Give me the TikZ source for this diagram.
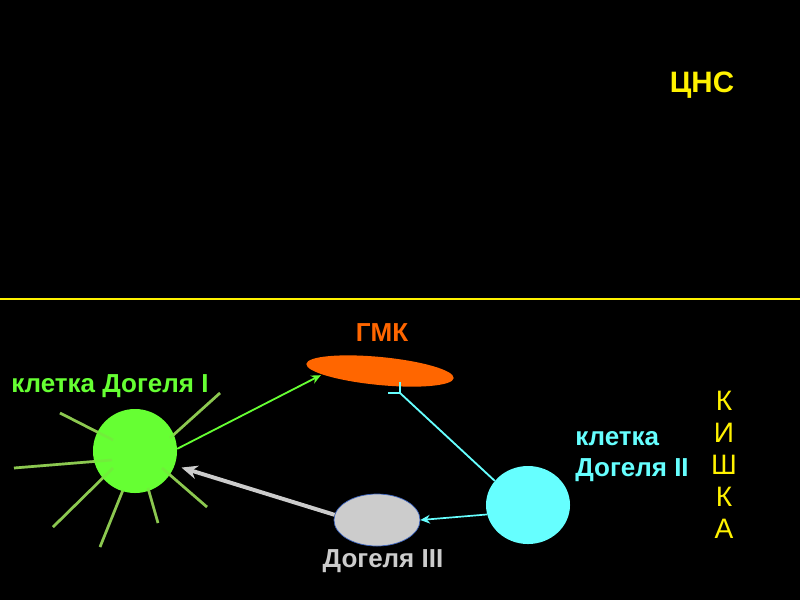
\documentclass[tikz,border=0pt]{standalone}
\usepackage{fontspec}
\setmainfont{Liberation Sans}
\usetikzlibrary{arrows.meta,positioning,shapes.geometric}

\definecolor{dogelgreen}{RGB}{102,255,51}
\definecolor{raygreen}{RGB}{140,200,80}
\definecolor{gmkorange}{RGB}{255,102,0}
\definecolor{dogelcyan}{RGB}{102,255,255}
\definecolor{dogelgray}{RGB}{204,204,204}
\definecolor{rimblue}{RGB}{60,100,190}

\begin{document}
\begin{tikzpicture}[x=0.025cm, y=-0.025cm,
  cell/.style={ellipse, inner sep=0pt, minimum width=2.1cm, minimum height=2.1cm},
  lbl/.style={font=\fontsize{18.5}{22}\selectfont\bfseries, inner sep=0pt, align=left},
  big/.style={font=\fontsize{20}{22.8}\selectfont, inner sep=0pt, align=center},
  ray/.style={raygreen, line width=1.9pt},
  link/.style={-{Stealth[length=2.4mm, width=2.2mm]}, line width=1.3pt},
]
  % --- background and border line -------------------------------------
  \fill[black] (0,0) rectangle (800,600);
  \useasboundingbox (0,0) rectangle (800,600);
  \draw[yellow, line width=1.5pt] (0,299) -- (800,299);

  % --- CNS / gut labels ------------------------------------------------
  \node[big, text=yellow, font=\fontsize{21}{22.8}\selectfont\bfseries] (cns) at (702,85) {ЦНС};
  \node[big, text=yellow] (gut) at (724,465) {К\\И\\Ш\\К\\А};

  % --- Dogiel I with its processes -------------------------------------
  \draw[ray] (60,413) -- (113,440)  (14,468) -- (112,460)  (53,527) -- (113,468)
             (100,547) -- (123,490)  (158,523) -- (148,488)  (207,507) -- (162,468)
             (220,393) -- (170,438);
  \node[cell, fill=dogelgreen] (d1) at (135,451) {};
  \draw[ray, opacity=0.3] (60,413) -- (113,440)  (14,468) -- (112,460)  (53,527) -- (113,468)
             (100,547) -- (123,490)  (158,523) -- (148,488)  (207,507) -- (162,468)
             (220,393) -- (170,438);
  \node[lbl, text=dogelgreen] (d1lbl) at (110,386) {клетка Догеля I};

  % --- ganglion (GMK) --------------------------------------------------
  \node[ellipse, fill=gmkorange, inner sep=0pt, minimum width=3.7cm, minimum height=0.7cm,
    rotate=-5.5] (gmk) at (380,371) {};
  \node[lbl, text=gmkorange, font=\fontsize{18.5}{22}\selectfont\bfseries] (gmklbl) at (382,333) {ГМК};

  % --- Dogiel III ------------------------------------------------------
  \node[ellipse, fill=dogelgray, draw=rimblue, line width=0.5pt, inner sep=0pt,
    minimum width=2.15cm, minimum height=1.3cm] (d3) at (377,520) {};
  \node[lbl, text=dogelgray] (d3lbl) at (383,561) {Догеля III};

  % --- Dogiel II -------------------------------------------------------
  \node[cell, fill=dogelcyan, minimum height=1.95cm] (d2) at (528,505) {};
  \node[lbl, text=dogelcyan, anchor=west] (d2lbl) at (575,457) {клетка\\Догеля II};

  % --- links -----------------------------------------------------------
  \coordinate (tee) at (400,393);
  \draw[link, dogelgreen, shorten >=1pt] (d1.3) -- (gmk.189);
  \draw[-{Stealth[length=4mm, width=3.4mm]}, dogelgray, line width=2.8pt, shorten >=5pt]
    (d3.173) -- (d1.-20);
  \draw[link, dogelcyan, line width=1.2pt] (d2.193) -- (d3.east);
  \draw[dogelcyan, line width=1.3pt] (d2.144) -- (tee) -- ++(0,-11) (tee) -- ++(-12,0);
\end{tikzpicture}
\end{document}
